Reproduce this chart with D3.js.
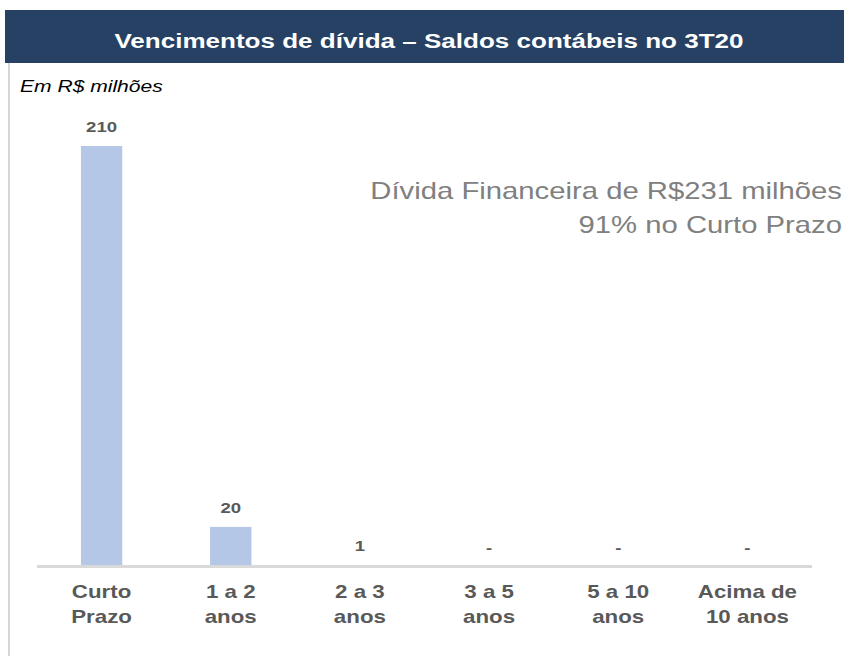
<!DOCTYPE html>
<html><head><meta charset="utf-8">
<script src="https://cdn.jsdelivr.net/npm/d3@7"></script>
<style>body{margin:0;background:#fff}</style>
</head><body>
<svg id="c" width="844" height="660"></svg>
<script>
const categories = [["Curto","Prazo"],["1 a 2","anos"],["2 a 3","anos"],["3 a 5","anos"],["5 a 10","anos"],["Acima de","10 anos"]];
const values = [210, 20, 1, 0, 0, 0];
const valueLabels = ["210","20","1","-","-","-"];
const title = "Vencimentos de dívida – Saldos contábeis no 3T20";
const subtitle = "Em R$ milhões";
const note = ["Dívida Financeira de R$231 milhões","91% no Curto Prazo"];

const svg = d3.select("#c");
const font = "'Liberation Sans', Arial, sans-serif";
const SX = 1.24;

function txt(parent, x, y, str, o) {
  return parent.append("text")
    .attr("transform", `translate(${x},${y}) scale(${SX},1)`)
    .attr("text-anchor", o.anchor || "start")
    .attr("fill", o.fill || "#000")
    .attr("font-family", font)
    .attr("font-weight", o.weight || "normal")
    .attr("font-style", o.style || "normal")
    .attr("font-size", o.size)
    .text(str);
}

svg.append("rect").attr("x",5).attr("y",10).attr("width",839).attr("height",53).attr("fill","#264163");
txt(svg, 429, 48, title, {anchor:"middle", fill:"#fff", weight:"bold", size:21});
svg.append("line").attr("x1",9).attr("x2",9).attr("y1",63).attr("y2",656).attr("stroke","#c8c8c8").attr("stroke-width",1.5);
txt(svg, 20, 92, subtitle, {style:"italic", size:17});

const x = d3.scaleBand().domain(d3.range(categories.length)).range([37,812]).paddingInner(0.68).paddingOuter(0.34);
const y = d3.scaleLinear().domain([0,210]).range([567,146]);

svg.selectAll("rect.bar").data(values).enter().append("rect").attr("class","bar")
  .attr("x",(d,i)=>x(i)).attr("width",x.bandwidth())
  .attr("y",d=>y(d)).attr("height",d=>y(0)-y(d)).attr("fill","#b4c7e7");

svg.append("line").attr("x1",37).attr("x2",812).attr("y1",566.5).attr("y2",566.5).attr("stroke","#d9d9d9").attr("stroke-width",3);

values.forEach((d,i)=>{
  txt(svg, x(i)+x.bandwidth()/2, y(d)-14, valueLabels[i], {anchor:"middle", fill:"#595959", weight:"bold", size:15});
});

categories.forEach((d,i)=>{
  d.forEach((line,j)=>txt(svg, x(i)+x.bandwidth()/2, 598+j*25, line, {anchor:"middle", fill:"#595959", weight:"bold", size:18}));
});

note.forEach((t,j)=>txt(svg, 842, 199+j*34, t, {anchor:"end", fill:"#808080", size:23.6}));
</script>
</body></html>
